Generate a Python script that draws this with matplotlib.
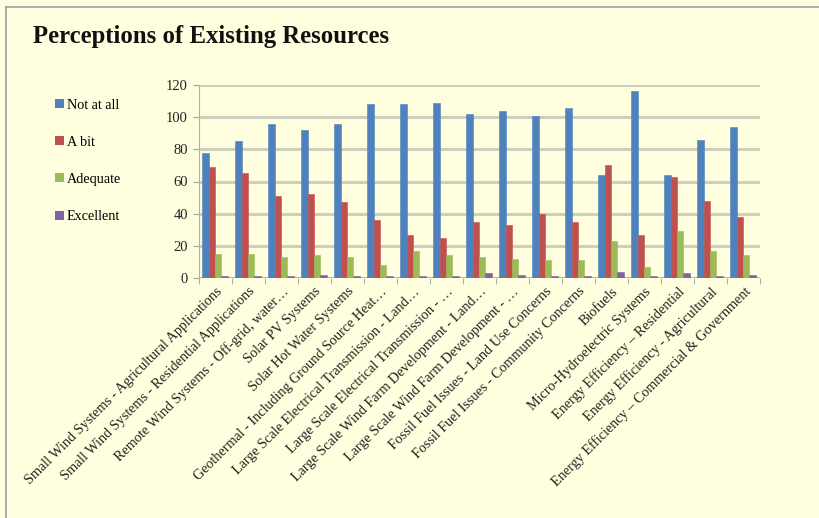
import matplotlib.pyplot as plt
import matplotlib.patches as mpatches
import numpy as np

# ── Data ──────────────────────────────────────────────────────────────────────
categories = [
    "Small Wind Systems - Agricultural Applications",
    "Small Wind Systems - Residential Applications",
    "Remote Wind Systems - Off-grid, water…",
    "Solar PV Systems",
    "Solar Hot Water Systems",
    "Geothermal - Including Ground Source Heat…",
    "Large Scale Electrical Transmission - Land…",
    "Large Scale Electrical Transmission - …",
    "Large Scale Wind Farm Development - Land…",
    "Large Scale Wind Farm Development - …",
    "Fossil Fuel Issues - Land Use Concerns",
    "Fossil Fuel Issues - Community Concerns",
    "Biofuels",
    "Micro-Hydroelectric Systems",
    "Energy Efficiency – Residential",
    "Energy Efficiency - Agricultural",
    "Energy Efficiency – Commercial & Government",
]
not_at_all = [78, 85, 96, 92, 96, 108, 108, 109, 102, 104, 101, 106, 64, 116, 64, 86, 94]
a_bit      = [69, 65, 51, 52, 47, 36, 27, 25, 35, 33, 40, 35, 70, 27, 63, 48, 38]
adequate   = [15, 15, 13, 14, 13, 8, 17, 14, 13, 12, 11, 11, 23, 7, 29, 17, 14]
excellent  = [1, 1, 1, 2, 1, 1, 1, 1, 3, 2, 1, 1, 4, 1, 3, 1, 2]

series = [
    ("Not at all", not_at_all, "#4F81BD"),
    ("A bit",      a_bit,      "#C0504D"),
    ("Adequate",   adequate,   "#9BBB59"),
    ("Excellent",  excellent,  "#8064A2"),
]

BG = "#FFFFDF"
FONT = "Liberation Serif"

W, H = 819, 518
fig = plt.figure(figsize=(W / 100, H / 100), dpi=100, facecolor=BG)

# outer border (top and left)
fig.add_artist(plt.Line2D([6 / W, 1], [1 - 7 / H, 1 - 7 / H], color="#A0A0A0", lw=1.2))
fig.add_artist(plt.Line2D([6 / W, 6 / W], [0, 1 - 7 / H], color="#A0A0A0", lw=1.2))

ax = fig.add_axes([199 / W, 1 - 278 / H, (760 - 199) / W, (278 - 85) / H])
ax.set_facecolor(BG)

x = np.arange(len(categories))
bw = 0.19
offsets = [-0.3, -0.11, 0.08, 0.27]
for (name, vals, col), off in zip(series, offsets):
    ax.bar(x + off, vals, width=bw, color=col, edgecolor=col, linewidth=0.4,
           label=name, zorder=3)

ax.set_xlim(-0.5, len(categories) - 0.5)
ax.set_ylim(0, 120)
ax.set_yticks(range(0, 121, 20))
ax.yaxis.grid(True, color="#CFCFC0", lw=2.2, zorder=0)
ax.set_axisbelow(True)

for s in ["top", "right", "bottom"]:
    ax.spines[s].set_visible(False)
ax.spines["left"].set_color("#B0B0A8")
ax.axhline(0, color="#B8B8AC", lw=2.2, zorder=2)

ax.set_xticks(np.arange(-0.5, len(categories), 1), minor=True)
ax.tick_params(axis="x", which="minor", length=4, color="#A0A0A0")
ax.set_xticks(x)
ax.set_xticklabels(categories, rotation=45, ha="right", va="top",
                   rotation_mode="anchor", fontsize=10.2, family=FONT, color="#222222")
ax.tick_params(axis="x", which="major", length=0, pad=5)
ax.tick_params(axis="y", length=4, color="#A0A0A0", labelsize=10.5, pad=4)
for lbl in ax.get_yticklabels():
    lbl.set_family(FONT)
    lbl.set_color("#222222")

# ── Legend ────────────────────────────────────────────────────────────────────
fig.legend(
    handles=[mpatches.Patch(facecolor=c, edgecolor="none", label=n) for n, _, c in series],
    loc="upper left", bbox_to_anchor=(0.052, 1 - 86 / H),
    frameon=False, prop={"family": FONT, "size": 10.2},
    handlelength=0.6, handleheight=0.6, handletextpad=0.2, labelspacing=1.7,
)

# ── Title ─────────────────────────────────────────────────────────────────────
fig.text(33 / W, 1 - 36 / H, "Perceptions of Existing Resources",
         ha="left", va="center", fontsize=17.8, fontweight="bold",
         family=FONT, color="#111111")

fig.savefig("out.png", dpi=100, facecolor=BG)
